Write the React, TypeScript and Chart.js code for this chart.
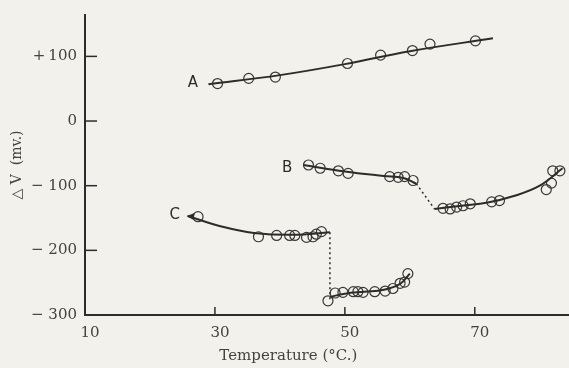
import React, { useEffect, useRef } from "react";
import { Chart, registerables } from "chart.js";

Chart.register(...registerables);

// ---- Data (Temperature °C, ΔV mV) ----
const aTemps = [30.4, 35.2, 39.3, 50.4, 55.5, 60.4, 63.1, 70.1];
const aVolts = [58, 66, 68, 89, 102, 109, 119, 124];
const aFitTemps = [29.0, 40, 50, 60, 72.8];
const aFitVolts = [57, 71, 88, 108, 128];

const bUpTemps = [44.4, 46.2, 49.0, 50.5, 56.9, 58.2, 59.2, 60.5];
const bUpVolts = [-68, -73, -77, -81, -86, -87, -86, -92];
const bUpFitTemps = [43.6, 50, 56, 59, 61.0];
const bUpFitVolts = [-68, -78, -85, -88, -97];
const bDashTemps = [61.0, 63.8];
const bDashVolts = [-97, -136];
const bLowTemps = [65.1, 66.2, 67.2, 68.2, 69.3, 72.6, 73.8, 81.0, 81.8, 82.0, 83.1];
const bLowVolts = [-135, -136, -133, -131, -128, -125, -123, -106, -96, -77, -77];
const bLowFitTemps = [63.8, 68, 72, 76, 80, 83.5];
const bLowFitVolts = [-136, -131, -126, -116, -100, -73];

const cUpTemps = [27.4, 36.7, 39.5, 41.5, 42.3, 44.1, 45.1, 45.6, 46.4];
const cUpVolts = [-148, -179, -177, -177, -177, -180, -179, -175, -171];
const cUpFitTemps = [25.8, 31, 36, 42, 47.7];
const cUpFitVolts = [-147, -163, -173, -176, -172];
const cDashTemps = [47.7, 47.7];
const cDashVolts = [-172, -276];
const cLowTemps = [47.4, 48.5, 49.7, 51.3, 52.0, 52.8, 54.6, 56.2, 57.4, 58.5, 59.2, 59.7];
const cLowVolts = [-278, -266, -265, -264, -264, -265, -264, -263, -259, -251, -249, -236];
const cLowFitTemps = [47.7, 50, 53, 56, 58.5, 60];
const cLowFitVolts = [-272, -267, -264, -261, -252, -236];

const xTicks = [10, 30, 50, 70];
const yTicks = [-300, -200, -100, 0, 100];
const yTickLabels = ["\u2212 300", "\u2212 200", "\u2212 100", "0", "+\u2009100"];

const curveLabels = ["A", "B", "C"];
const curveLabelTemps = [26.6, 41.1, 23.8];
const curveLabelVolts = [58, -73, -145];

const INK = "#2e2c2a";
const TEXT = "#45423f";
const BG = "#f3f1ec";

const pts = (xs: number[], ys: number[]) => xs.map((x, i) => ({ x, y: ys[i] }));

const circles = (xs: number[], ys: number[]) => ({
  type: "scatter" as const,
  data: pts(xs, ys),
  showLine: false,
  pointStyle: "circle",
  pointRadius: 5,
  pointBorderWidth: 1.2,
  pointBorderColor: "#3a3836",
  pointBackgroundColor: "rgba(0,0,0,0)",
});

const fit = (xs: number[], ys: number[], dashed = false) => ({
  type: "line" as const,
  data: pts(xs, ys),
  borderColor: INK,
  borderWidth: dashed ? 1.5 : 2,
  borderDash: dashed ? [2, 3] : [],
  pointRadius: 0,
  tension: dashed ? 0 : 0.4,
  fill: false,
});

const decorPlugin = {
  id: "decor",
  beforeDraw(chart: any) {
    const { ctx, width, height } = chart;
    ctx.save();
    ctx.fillStyle = BG;
    ctx.fillRect(0, 0, width, height);
    ctx.restore();
  },
  afterDraw(chart: any) {
    const { ctx, chartArea } = chart;
    const xs = chart.scales.x;
    const ys = chart.scales.y;
    ctx.save();
    ctx.strokeStyle = INK;
    ctx.lineWidth = 1.5;
    // inward ticks
    yTicks.forEach((v) => {
      const py = ys.getPixelForValue(v);
      ctx.beginPath();
      ctx.moveTo(chartArea.left, py);
      ctx.lineTo(chartArea.left + 12, py);
      ctx.stroke();
    });
    xTicks.forEach((v) => {
      if (v === xTicks[0]) return;
      const px = xs.getPixelForValue(v);
      ctx.beginPath();
      ctx.moveTo(px, chartArea.bottom);
      ctx.lineTo(px, chartArea.bottom - 8);
      ctx.stroke();
    });
    // curve labels
    ctx.fillStyle = INK;
    ctx.font = '15px "DejaVu Sans"';
    ctx.textAlign = "center";
    ctx.textBaseline = "middle";
    curveLabels.forEach((t, i) => {
      ctx.fillText(t, xs.getPixelForValue(curveLabelTemps[i]), ys.getPixelForValue(curveLabelVolts[i]));
    });
    // small arrowhead on curve C
    const ax = xs.getPixelForValue(cUpFitTemps[0]);
    const ay = ys.getPixelForValue(cUpFitVolts[0]);
    ctx.beginPath();
    ctx.moveTo(ax - 1, ay);
    ctx.lineTo(ax + 7, ay - 3);
    ctx.lineTo(ax + 6, ay + 4);
    ctx.closePath();
    ctx.fill();
    // x-axis title
    ctx.fillStyle = TEXT;
    ctx.font = '15px "DejaVu Serif"';
    ctx.textBaseline = "middle";
    ctx.fillText("Temperature (\u00B0C.)", xs.getPixelForValue(41.3), chartArea.bottom + 41);
    ctx.restore();
  },
};

export default function App() {
  const ref = useRef<HTMLCanvasElement | null>(null);
  useEffect(() => {
    document.body.style.margin = "0";
    document.body.style.background = BG;
    if (!ref.current) return;
    const chart = new Chart(ref.current, {
      type: "scatter",
      data: {
        datasets: [
          fit(aFitTemps, aFitVolts),
          circles(aTemps, aVolts),
          fit(bUpFitTemps, bUpFitVolts),
          fit(bDashTemps, bDashVolts, true),
          fit(bLowFitTemps, bLowFitVolts),
          circles(bUpTemps, bUpVolts),
          circles(bLowTemps, bLowVolts),
          fit(cUpFitTemps, cUpFitVolts),
          fit(cDashTemps, cDashVolts, true),
          fit(cLowFitTemps, cLowFitVolts),
          circles(cUpTemps, cUpVolts),
          circles(cLowTemps, cLowVolts),
        ] as any,
      },
      options: {
        animation: false,
        responsive: false,
        layout: { autoPadding: false, padding: { top: 15, right: 0, left: 0, bottom: 0 } },
        plugins: { legend: { display: false }, tooltip: { enabled: false } },
        scales: {
          x: {
            type: "linear",
            min: 10,
            max: 84.5,
            afterFit: (s: any) => {
              s.height = 53;
              s.paddingRight = 0;
              s.paddingLeft = 0;
            },
            afterBuildTicks: (s: any) => { s.ticks = xTicks.map((v) => ({ value: v })); },
            grid: { display: false, drawTicks: false },
            border: { display: true, color: INK, width: 2 },
            ticks: {
              color: TEXT,
              font: { family: "DejaVu Serif", size: 15 },
              padding: 9,
              labelOffset: 5,
              maxRotation: 0,
              callback: (v: any) => String(v),
            },
          },
          y: {
            type: "linear",
            min: -300,
            max: 164,
            afterFit: (s: any) => {
              s.width = 85;
              s.paddingTop = 0;
              s.paddingBottom = 0;
            },
            afterBuildTicks: (s: any) => { s.ticks = yTicks.map((v) => ({ value: v })); },
            grid: { display: false, drawTicks: false },
            border: { display: true, color: INK, width: 2 },
            title: {
              display: true,
              text: "\u25B3 V  (mv.)",
              color: TEXT,
              font: { family: "DejaVu Serif", size: 14 },
              padding: { top: 9, bottom: 0 },
            },
            ticks: {
              color: TEXT,
              font: { family: "DejaVu Serif", size: 15 },
              padding: 8,
              callback: (v: any) => {
                const i = yTicks.indexOf(Number(v));
                return i >= 0 ? yTickLabels[i] : "";
              },
            },
          },
        },
      },
      plugins: [decorPlugin],
    });
    return () => chart.destroy();
  }, []);
  return (
    <div style={{ position: "fixed", left: 0, top: 0, width: 569, height: 368, background: BG }}>
      <canvas ref={ref} width={569} height={368} style={{ width: 569, height: 368, display: "block" }} />
    </div>
  );
}
